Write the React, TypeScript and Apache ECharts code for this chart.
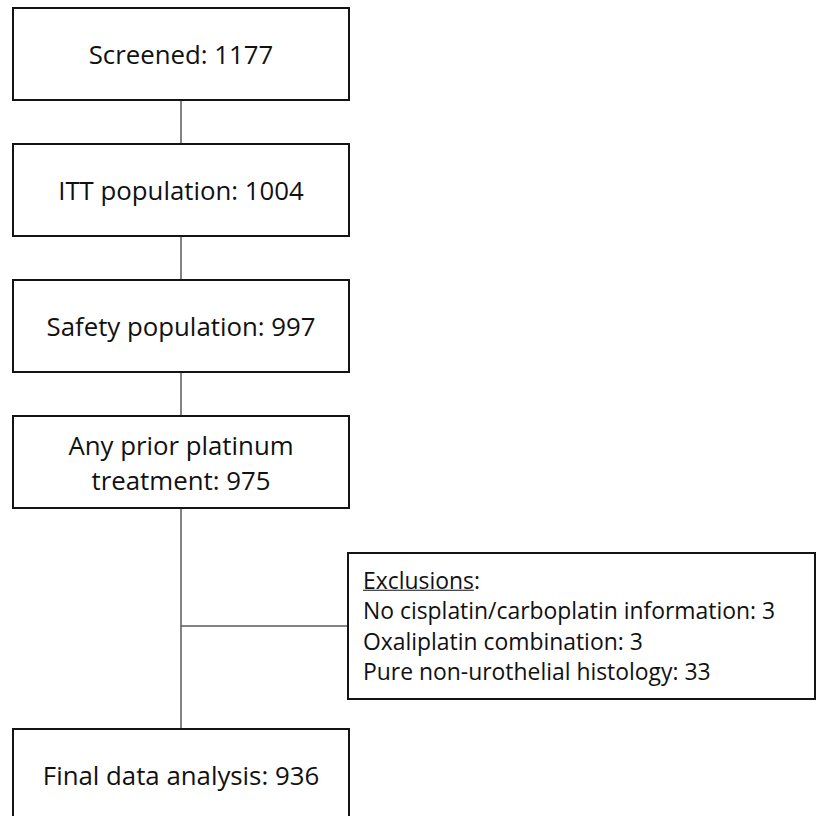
import React, { useEffect, useRef } from "react";
import * as echarts from "echarts";

// ---- data ----
const stageLabels = [
  "Screened",
  "ITT population",
  "Safety population",
  "Any prior platinum\ntreatment",
  "Final data analysis",
];
const stageCounts = [1177, 1004, 997, 975, 936];
const exclusionTitle = "Exclusions";
const exclusionReasons = [
  "No cisplatin/carboplatin information",
  "Oxaliplatin combination",
  "Pure non-urothelial histology",
];
const exclusionCounts = [3, 3, 33];

// ---- layout ----
const BOX_X = 13;
const BOX_W = 336;
const BOX_H = 92;
const BOX_TOPS = [8, 144, 280, 416, 729];
const CX = BOX_X + BOX_W / 2;
const EXC = { x: 348, y: 553, w: 467, h: 146 };
const EXC_PAD = 15;
const EXC_LINE_H = 30.5;
const MAIN_FONT = '25.8px "Open Sans"';
const EXC_FONT = '22.9px "Open Sans"';
const MAIN_LINE_H = 35;
const BOX_STROKE = "#141414";
const LINK_STROKE = "#5a5a5a";
const TEXT_FILL = "#111111";

function measure(text: string, font: string): number {
  const c = document.createElement("canvas").getContext("2d");
  if (!c) return text.length * 10;
  c.font = font;
  return c.measureText(text).width;
}

export default function App() {
  const ref = useRef<HTMLDivElement>(null);
  useEffect(() => {
    if (!ref.current) return;
    const chart = echarts.init(ref.current, undefined, { renderer: "svg" });
    const elements: any[] = [];

    // connectors
    for (let i = 0; i < BOX_TOPS.length - 1; i++) {
      elements.push({
        type: "line",
        shape: { x1: CX, y1: BOX_TOPS[i] + BOX_H, x2: CX, y2: BOX_TOPS[i + 1] },
        style: { stroke: LINK_STROKE, lineWidth: 1.5 },
      });
    }
    const branchY = EXC.y + EXC.h / 2;
    elements.push({
      type: "line",
      shape: { x1: CX, y1: branchY, x2: EXC.x, y2: branchY },
      style: { stroke: LINK_STROKE, lineWidth: 1.5 },
    });

    // stage boxes
    stageLabels.forEach((label, i) => {
      const top = BOX_TOPS[i];
      elements.push({
        type: "rect",
        shape: { x: BOX_X, y: top, width: BOX_W, height: BOX_H },
        style: { fill: "#ffffff", stroke: BOX_STROKE, lineWidth: 2 },
        z: 2,
      });
      elements.push({
        type: "text",
        z: 3,
        style: {
          text: `${label}: ${stageCounts[i]}`,
          x: CX,
          y: top + BOX_H / 2,
          align: "center",
          verticalAlign: "middle",
          font: MAIN_FONT,
          lineHeight: MAIN_LINE_H,
          fill: TEXT_FILL,
        },
      });
    });

    // exclusion box
    elements.push({
      type: "rect",
      z: 2,
      shape: { x: EXC.x, y: EXC.y, width: EXC.w, height: EXC.h },
      style: { fill: "#ffffff", stroke: BOX_STROKE, lineWidth: 2 },
    });
    const lines = [`${exclusionTitle}:`].concat(
      exclusionReasons.map((r, i) => `${r}: ${exclusionCounts[i]}`)
    );
    const blockH = lines.length * EXC_LINE_H;
    const firstY = EXC.y + EXC.h / 2 - blockH / 2 + EXC_LINE_H / 2;
    const tx = EXC.x + EXC_PAD;
    lines.forEach((t, i) => {
      elements.push({
        type: "text",
        z: 3,
        style: {
          text: t,
          x: tx,
          y: firstY + i * EXC_LINE_H,
          align: "left",
          verticalAlign: "middle",
          font: EXC_FONT,
          fill: TEXT_FILL,
        },
      });
    });
    const titleW = measure(exclusionTitle, EXC_FONT);
    elements.push({
      type: "line",
      z: 3,
      shape: { x1: tx, y1: firstY + 10, x2: tx + titleW, y2: firstY + 10 },
      style: { stroke: TEXT_FILL, lineWidth: 1.2 },
    });

    chart.setOption({
      animation: false,
      backgroundColor: "#ffffff",
      graphic: { elements },
    });
    return () => chart.dispose();
  }, []);
  return (
    <div
      ref={ref}
      style={{ position: "fixed", left: 0, top: 0, width: 816, height: 816 }}
    />
  );
}
